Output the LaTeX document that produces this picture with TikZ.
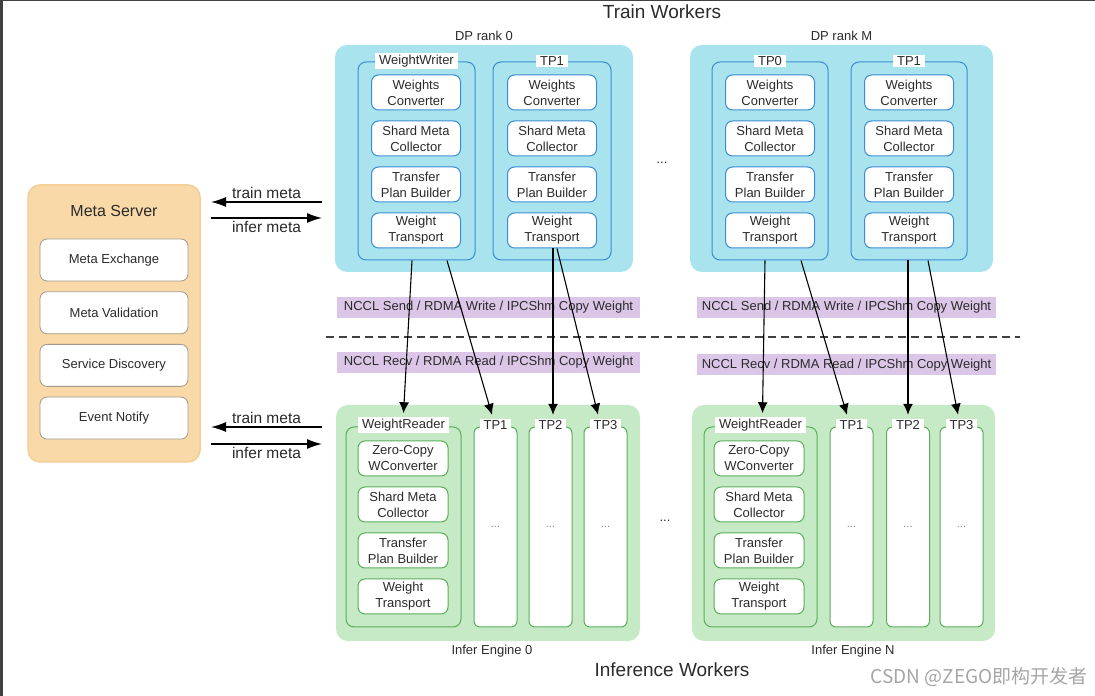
\documentclass[tikz,border=0pt]{standalone}
\usepackage{fontspec}
\setmainfont{Liberation Sans}
\newfontfamily\cjkfont{Noto Sans CJK SC}
\usetikzlibrary{positioning, arrows.meta, calc}

\definecolor{trainfill}{HTML}{A8E3EE}
\definecolor{trainline}{HTML}{3B8CD4}
\definecolor{inferfill}{HTML}{C6E9C6}
\definecolor{inferline}{HTML}{5AAE5A}
\definecolor{metafill}{HTML}{F9D9A7}
\definecolor{metaline}{HTML}{F3CE96}
\definecolor{metabox}{HTML}{A39A8E}
\definecolor{sendfill}{HTML}{DCC6E8}
\definecolor{txt}{HTML}{2B2B2B}

\tikzset{
  every node/.style={text=txt, font=\fontsize{13}{16}\selectfont, align=center},
  worker/.style={rounded corners=12pt, inner sep=0pt},
  group/.style={draw, rounded corners=8pt, line width=1pt, minimum height=198pt, inner sep=0pt},
  tpart/.style={draw=trainline, fill=white, rounded corners=7pt, line width=1pt,
    minimum width=89pt, minimum height=35pt, inner sep=0pt},
  ipart/.style={tpart, draw=inferline, minimum width=90pt},
  mpart/.style={draw=metabox, fill=white, rounded corners=7pt, line width=0.8pt,
    minimum width=148pt, minimum height=42pt, inner sep=0pt},
  tag/.style={fill=white, inner xsep=4pt, inner ysep=1.5pt},
  column/.style={group, draw=inferline, fill=white, rounded corners=6pt,
    minimum width=43pt, minimum height=200pt, text=gray, font=\fontsize{11}{12}\selectfont},
  channel/.style={fill=sendfill, minimum height=21pt, inner sep=0pt},
  link/.style={line width=1.1pt, -{Latex[length=11pt,width=10pt]}},
  metalink/.style={line width=1.3pt, -{Latex[length=15pt,width=10pt]}},
  bigtitle/.style={font=\fontsize{19}{22}\selectfont},
}

\begin{document}
\begin{tikzpicture}[x=1pt, y=1pt, node distance=46pt, on grid]
\useasboundingbox (0,0) rectangle (1095,696);
\fill[white] (0,0) rectangle (1095,696);
\fill[black!75] (0,0) rectangle (3,696);
\fill[black!75] (0,695) rectangle (1095,696);

% titles
\node[bigtitle] (train) at (662,684) {Train Workers};
\node[bigtitle] (infer) at (672,26) {Inference Workers};
\node[font=\cjkfont\fontsize{19}{22}\selectfont, text=black!35, anchor=east] (mark) at (1091,19) {CSDN @ZEGO即构开发者};

% train workers
\node[worker, fill=trainfill, minimum width=298pt, minimum height=227pt] (dp_0) at (484,537.5) {};
\node[worker, fill=trainfill, minimum width=303pt, minimum height=227pt] (dp_M) at (841.5,537.5) {};
\node (dl_0) at (484,660) {DP rank 0};
\node (dl_M) at (841.5,660) {DP rank M};
\node (dots_t) at (662,533) {...};

\node[group, draw=trainline, minimum width=117pt] (g_0a) at (416.5,535) {};
\node[group, draw=trainline, minimum width=118pt] (g_0b) at (552,535) {};
\node[group, draw=trainline, minimum width=116pt] (g_Ma) at (770,535) {};
\node[group, draw=trainline, minimum width=116pt] (g_Mb) at (909,535) {};
\node[tag] (l_0a) at (416.5,635) {WeightWriter};
\node[tag] (l_0b) at (552,635) {TP1};
\node[tag] (l_Ma) at (770,635) {TP0};
\node[tag] (l_Mb) at (909,635) {TP1};

\node[tpart] (wc_0a) at (416,603.5) {Weights\\Converter};
\node[tpart] (sm_0a) [below=of wc_0a] {Shard Meta\\Collector};
\node[tpart] (pb_0a) [below=of sm_0a] {Transfer\\Plan Builder};
\node[tpart] (wt_0a) [below=of pb_0a] {Weight\\Transport};

\node[tpart] (wc_0b) at (552,603.5) {Weights\\Converter};
\node[tpart] (sm_0b) [below=of wc_0b] {Shard Meta\\Collector};
\node[tpart] (pb_0b) [below=of sm_0b] {Transfer\\Plan Builder};
\node[tpart] (wt_0b) [below=of pb_0b] {Weight\\Transport};

\node[tpart] (wc_Ma) at (770,603.5) {Weights\\Converter};
\node[tpart] (sm_Ma) [below=of wc_Ma] {Shard Meta\\Collector};
\node[tpart] (pb_Ma) [below=of sm_Ma] {Transfer\\Plan Builder};
\node[tpart] (wt_Ma) [below=of pb_Ma] {Weight\\Transport};

\node[tpart] (wc_Mb) at (909,603.5) {Weights\\Converter};
\node[tpart] (sm_Mb) [below=of wc_Mb] {Shard Meta\\Collector};
\node[tpart] (pb_Mb) [below=of sm_Mb] {Transfer\\Plan Builder};
\node[tpart] (wt_Mb) [below=of pb_Mb] {Weight\\Transport};

% meta server
\node[worker, fill=metafill, draw=metaline, line width=1.5pt, minimum width=172pt, minimum height=277pt] (ms) at (114,372.5) {};
\node[font=\fontsize{16}{19}\selectfont] (ms_t) at (114,485) {Meta Server};
\node[mpart] (me) at (114,436) {Meta Exchange};
\node[mpart] (mv) [below=52.7pt of me] {Meta Validation};
\node[mpart] (sd) [below=52.7pt of mv] {Service Discovery};
\node[mpart] (en) [below=52.7pt of sd] {Event Notify};

\coordinate (tm_a) at (322,494);
\coordinate (tm_b) at (211,494);
\coordinate (im_a) at (211,478);
\coordinate (im_b) at (322,478);
\coordinate (tm_c) at (322,269);
\coordinate (tm_d) at (211,269);
\coordinate (im_c) at (211,252);
\coordinate (im_d) at (322,252);
\draw[metalink] (tm_a) -- node[above=-1pt, font=\fontsize{15.5}{18}\selectfont] {train meta} (tm_b);
\draw[metalink] (im_a) -- node[below=-1pt, font=\fontsize{15.5}{18}\selectfont] {infer meta} (im_b);
\draw[metalink] (tm_c) -- node[above=-1pt, font=\fontsize{15.5}{18}\selectfont] {train meta} (tm_d);
\draw[metalink] (im_c) -- node[below=-1pt, font=\fontsize{15.5}{18}\selectfont] {infer meta} (im_d);

% transfer
\node[channel, minimum width=303pt] (send_0) at (488.5,388.5) {NCCL Send / RDMA Write / IPCShm Copy Weight};
\node[channel, minimum width=299pt] (send_M) at (846.5,388.5) {NCCL Send / RDMA Write / IPCShm Copy Weight};
\node[channel, minimum width=303pt] (recv_0) at (488.5,333.5) {NCCL Recv / RDMA Read / IPCShm Copy Weight};
\node[channel, minimum width=299pt] (recv_N) at (846.5,331) {NCCL Recv / RDMA Read / IPCShm Copy Weight};
\coordinate (cut_l) at (326,359);
\coordinate (cut_r) at (1020,359);
\draw[black!75, line width=1.4pt, dash pattern=on 8pt off 5pt] (cut_l) -- (cut_r);

% inference workers
\node[worker, fill=inferfill, minimum width=304pt, minimum height=236pt] (ie_0) at (488,173) {};
\node[worker, fill=inferfill, minimum width=303pt, minimum height=236pt] (ie_N) at (843.5,173) {};
\node (el_0) at (492,45) {Infer Engine 0};
\node (el_N) at (853,45) {Infer Engine N};
\node (dots_b) at (665,175) {...};

\node[group, draw=inferline, minimum width=115pt, minimum height=200pt] (wr_0) at (403.5,169) {};
\node[group, draw=inferline, minimum width=113pt, minimum height=200pt] (wr_N) at (760.5,169) {};
\node[column] (c_01) at (495.5,169) {...};
\node[column] (c_02) at (550.5,169) {...};
\node[column] (c_03) at (605.5,169) {...};
\node[column] (c_N1) at (851.5,169) {...};
\node[column] (c_N2) at (908,169) {...};
\node[column] (c_N3) at (961.5,169) {...};
\node[tag] (lr_0) at (403.5,271) {WeightReader};
\node[tag] (lc_01) at (495.5,271) {TP1};
\node[tag] (lc_02) at (550.5,271) {TP2};
\node[tag] (lc_03) at (605.5,271) {TP3};
\node[tag] (lr_N) at (760.5,271) {WeightReader};
\node[tag] (lc_N1) at (851.5,271) {TP1};
\node[tag] (lc_N2) at (908,271) {TP2};
\node[tag] (lc_N3) at (961.5,271) {TP3};

\node[ipart] (zc_0) at (403,237.5) {Zero-Copy\\WConverter};
\node[ipart] (rs_0) [below=of zc_0] {Shard Meta\\Collector};
\node[ipart] (rp_0) [below=of rs_0] {Transfer\\Plan Builder};
\node[ipart] (rt_0) [below=of rp_0] {Weight\\Transport};

\node[ipart] (zc_N) at (759,237.5) {Zero-Copy\\WConverter};
\node[ipart] (rs_N) [below=of zc_N] {Shard Meta\\Collector};
\node[ipart] (rp_N) [below=of rs_N] {Transfer\\Plan Builder};
\node[ipart] (rt_N) [below=of rp_N] {Weight\\Transport};

% weight links
\path[link]
  ([xshift=-4.5pt]g_0a.south) edge ([yshift=4pt]lr_0.north)
  ([xshift=30.5pt]g_0a.south) edge ([xshift=-3.5pt,yshift=4pt]lc_01.north)
  ([xshift=1pt]wt_0b.south) edge ([xshift=2.5pt,yshift=4pt]lc_02.north)
  ([xshift=5pt]wt_0b.south) edge ([xshift=-7.5pt,yshift=4pt]lc_03.north)
  ([xshift=-5pt]g_Ma.south) edge ([xshift=2pt,yshift=4pt]lr_N.north)
  ([xshift=31pt]g_Ma.south) edge ([xshift=-4.5pt,yshift=4pt]lc_N1.north)
  ([xshift=-1pt]g_Mb.south) edge ([yshift=4pt]lc_N2.north)
  ([xshift=19pt]g_Mb.south) edge ([xshift=-3.5pt,yshift=4pt]lc_N3.north)
  ;
\end{tikzpicture}
\end{document}
